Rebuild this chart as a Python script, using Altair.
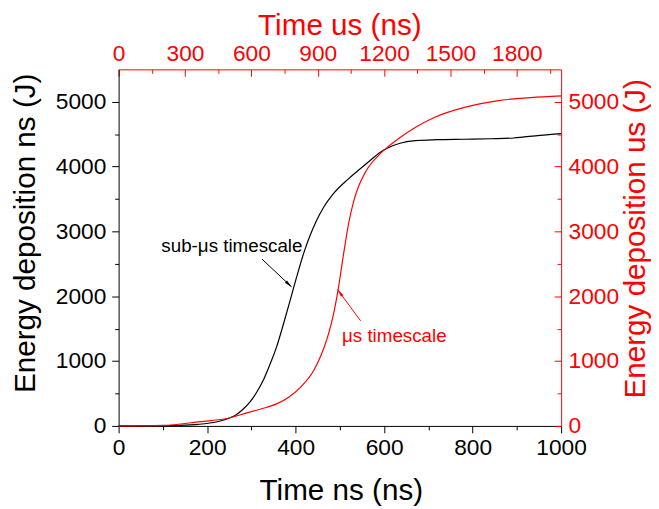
import altair as alt
import pandas as pd

# ---- data ----
ns_time = [0, 100, 150, 179, 223, 252, 265, 280, 297, 312, 328, 345, 357, 372, 387, 402, 420,
           434, 446, 464, 484, 520, 565, 590, 609, 636, 670, 720, 781, 840, 893, 952, 1000]
ns_energy = [0, 3, 12, 24, 65, 126, 170, 250, 370, 520, 720, 1000, 1220, 1560, 1920, 2290, 2700,
             2960, 3150, 3380, 3571, 3815, 4074, 4215, 4290, 4360, 4400, 4415, 4422, 4430, 4441, 4483, 4510]

us_time = [0, 200, 357, 504, 580, 647, 714, 772, 826, 879, 915, 946, 969, 991, 1018, 1040,
           1062, 1085, 1110, 1129, 1174, 1219, 1272, 1339, 1429, 1563, 1710, 1862, 2000]
us_energy = [0, 8, 61, 126, 202, 265, 340, 450, 610, 840, 1090, 1390, 1690, 2080, 2680, 3130,
             3460, 3700, 3880, 3990, 4170, 4310, 4450, 4600, 4761, 4913, 5015, 5065, 5091]

ns_ticks = list(range(0, 1001, 100))
us_ticks = list(range(0, 2000, 150))
e_ticks = list(range(0, 5001, 500))

# annotations (data coordinates)
ns_label = ["sub-μs timescale"]
ns_label_pos = [256, 2680]
ns_arrow = [324, 2573, 390.6, 2146]     # start t, start E, tip t, tip E
ns_head = [384.6, 2185]
us_label = ["μs timescale"]
us_label_pos = [1246, 1301]
us_arrow = [1094, 1620, 990, 2102]
us_head = [1000, 2056]

RED = "#ff0000"
FONT = "Liberation Sans"
HEAD = "M0,-1L0.4,1L-0.4,1Z"

df_ns = pd.DataFrame({"t": ns_time, "E": ns_energy})
df_us = pd.DataFrame({"t": us_time, "E": us_energy})


def xs_ns():
    return alt.Scale(domain=[0, 1000], nice=False, zero=False)


def xs_us():
    return alt.Scale(domain=[0, 2000], nice=False, zero=False)


def ys():
    return alt.Scale(domain=[0, 5500], nice=False)


bottom_axis = alt.Axis(
    orient="bottom", values=ns_ticks, format="d", title="Time ns (ns)",
    labelExpr="datum.value % 200 === 0 ? datum.label : ''",
    tickSize={"condition": {"test": "datum.value % 200 === 0", "value": 7}, "value": 4},
    labelPadding=22, labelBaseline="alphabetic", labelFlush=False, labelOverlap=False,
    titleX=225, titleY=75, titleAlign="center", titleBaseline="alphabetic",
    domainColor="black", tickColor="black", labelColor="black", titleColor="black")

left_axis = alt.Axis(
    orient="left", values=e_ticks, format="d", title="Energy deposition ns (J)",
    labelExpr="datum.value % 1000 === 0 ? datum.label : ''",
    tickSize={"condition": {"test": "datum.value % 1000 === 0", "value": 7}, "value": 4},
    labelPadding=6, labelFlush=False, labelOverlap=False,
    titleAngle=270, titleX=-85, titleY=165.5, titleAlign="center", titleBaseline="alphabetic",
    domainColor="black", tickColor="black", labelColor="black", titleColor="black")

top_axis = alt.Axis(
    orient="top", values=us_ticks, format="d", title="Time us (ns)",
    labelExpr="datum.value % 300 === 0 ? datum.label : ''",
    tickSize={"condition": {"test": "datum.value % 300 === 0", "value": -7}, "value": -4},
    labelPadding=16, labelBaseline="alphabetic", labelFlush=False, labelOverlap=False,
    titleX=223.5, titleY=-35, titleAlign="center", titleBaseline="alphabetic",
    domainColor=RED, tickColor=RED, labelColor=RED, titleColor=RED)

right_axis = alt.Axis(
    orient="right", values=e_ticks, format="d", title="Energy deposition us (J)",
    labelExpr="datum.value % 1000 === 0 ? datum.label : ''",
    tickSize={"condition": {"test": "datum.value % 1000 === 0", "value": -7}, "value": -4},
    labelPadding=14, labelFlush=False, labelOverlap=False,
    titleAngle=270, titleX=84, titleY=171, titleAlign="center", titleBaseline="alphabetic",
    domainColor=RED, tickColor=RED, labelColor=RED, titleColor=RED)

# ---- ns (black) ----
black_line = alt.Chart(df_ns).mark_line(color="black", strokeWidth=1.2, interpolate="monotone").encode(
    x=alt.X("t:Q", scale=xs_ns(), axis=bottom_axis),
    y=alt.Y("E:Q", scale=ys(), axis=left_axis))

black_rule = alt.Chart(pd.DataFrame({"x0": [ns_arrow[0]], "y0": [ns_arrow[1]],
                                     "x1": [ns_arrow[2]], "y1": [ns_arrow[3]]})).mark_rule(
    color="black", strokeWidth=1).encode(
    x=alt.X("x0:Q", scale=xs_ns(), axis=None), x2="x1:Q",
    y=alt.Y("y0:Q", scale=ys(), axis=None), y2="y1:Q")

black_head = alt.Chart(pd.DataFrame({"t": [ns_head[0]], "E": [ns_head[1]]})).mark_point(
    shape=HEAD, filled=True, size=64, angle=133, color="black", opacity=1, strokeWidth=0).encode(
    x=alt.X("t:Q", scale=xs_ns(), axis=None),
    y=alt.Y("E:Q", scale=ys(), axis=None))

black_text = alt.Chart(pd.DataFrame({"t": [ns_label_pos[0]], "E": [ns_label_pos[1]],
                                     "label": ns_label})).mark_text(
    font=FONT, fontSize=19, color="black", align="center", baseline="alphabetic").encode(
    x=alt.X("t:Q", scale=xs_ns(), axis=None),
    y=alt.Y("E:Q", scale=ys(), axis=None),
    text="label:N")

# ---- us (red) ----
red_line = alt.Chart(df_us).mark_line(color=RED, strokeWidth=1.2, interpolate="monotone").encode(
    x=alt.X("t:Q", scale=xs_us(), axis=top_axis),
    y=alt.Y("E:Q", scale=ys(), axis=right_axis))

red_rule = alt.Chart(pd.DataFrame({"x0": [us_arrow[0]], "y0": [us_arrow[1]],
                                   "x1": [us_arrow[2]], "y1": [us_arrow[3]]})).mark_rule(
    color=RED, strokeWidth=1).encode(
    x=alt.X("x0:Q", scale=xs_us(), axis=None), x2="x1:Q",
    y=alt.Y("y0:Q", scale=ys(), axis=None), y2="y1:Q")

red_head = alt.Chart(pd.DataFrame({"t": [us_head[0]], "E": [us_head[1]]})).mark_point(
    shape=HEAD, filled=True, size=64, angle=324, color=RED, opacity=1, strokeWidth=0).encode(
    x=alt.X("t:Q", scale=xs_us(), axis=None),
    y=alt.Y("E:Q", scale=ys(), axis=None))

red_text = alt.Chart(pd.DataFrame({"t": [us_label_pos[0]], "E": [us_label_pos[1]],
                                   "label": us_label})).mark_text(
    font=FONT, fontSize=19, color=RED, align="center", baseline="alphabetic").encode(
    x=alt.X("t:Q", scale=xs_us(), axis=None),
    y=alt.Y("E:Q", scale=ys(), axis=None),
    text="label:N")

chart = alt.layer(
    black_line, red_line, black_rule, black_head, black_text, red_rule, red_head, red_text
).resolve_scale(
    x="independent", y="independent"
).properties(
    width=448, height=361,
    autosize=alt.AutoSizeParams(type="none"),
    padding={"left": 112, "top": 59, "right": 91, "bottom": 81},
    background="white",
).configure_view(
    stroke="transparent"
).configure_axis(
    grid=False, domainWidth=1, tickWidth=1,
    labelFont=FONT, labelFontSize=23, titleFont=FONT, titleFontSize=30,
    titleFontWeight="normal",
)

chart.save("out.html", embed_options={"renderer": "svg", "actions": False})
